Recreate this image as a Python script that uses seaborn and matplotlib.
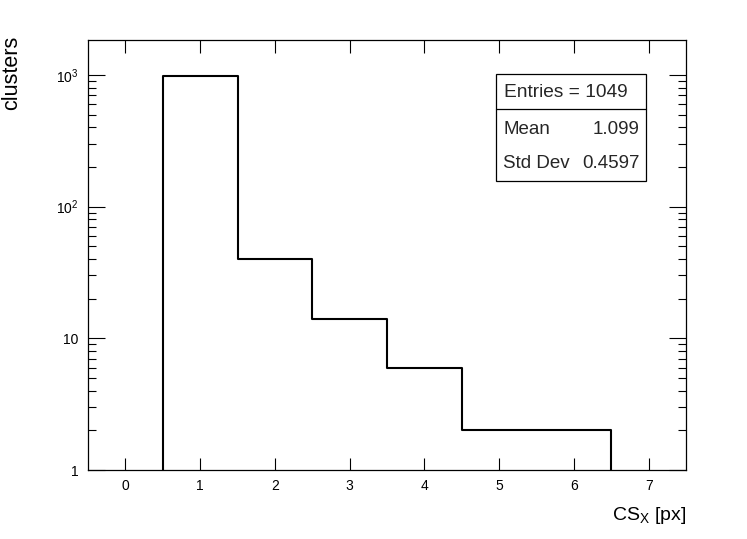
import numpy as np
import pandas as pd
import matplotlib
matplotlib.use("Agg")
import matplotlib.pyplot as plt
import seaborn as sns
from matplotlib.ticker import FixedLocator, FixedFormatter, LogLocator, NullFormatter, NullLocator
from matplotlib.patches import Rectangle
from matplotlib.lines import Line2D

# ---- data ----
bin_centers = [0, 1, 2, 3, 4, 5, 6, 7]
bin_counts = [0, 985, 40, 14, 6, 2, 2, 0]
bin_edges = [-0.5, 0.5, 1.5, 2.5, 3.5, 4.5, 5.5, 6.5, 7.5]
x_ticks = [0, 1, 2, 3, 4, 5, 6, 7]
y_ticks = [1, 10, 100, 1000]
y_tick_labels = ["1", "10", r"$\mathregular{10^{2}}$", r"$\mathregular{10^{3}}$"]
stats_entries = "Entries = 1049"
stats_names = ["Mean", "Std Dev"]
stats_values = ["1.099", "0.4597"]
x_label = r"CS$_{\mathregular{X}}$ [px]"
y_label = "clusters"

sns.set_theme(style="white")
plt.rcParams["font.family"] = ["Liberation Sans", "DejaVu Sans"]
plt.rcParams["mathtext.fontset"] = "custom"
plt.rcParams["mathtext.rm"] = "Liberation Sans"
plt.rcParams["mathtext.it"] = "Liberation Sans:italic"

W, H = 747, 539
fig = plt.figure(figsize=(W / 100, H / 100), dpi=100)
fig.patch.set_facecolor("white")
L, R, T, B = 88, 686, 40, 470
ax = fig.add_axes([L / W, (H - B) / H, (R - L) / W, (B - T) / H])
ax.set_facecolor("white")

df = pd.DataFrame({"x": bin_centers, "w": bin_counts})
sns.histplot(data=df, x="x", weights="w", bins=bin_edges, element="step",
             fill=False, color="black", linewidth=1.5, ax=ax)

ax.set_yscale("log")
ax.set_xlim(-0.5, 7.5)
ax.set_ylim(1, 1840)

for s in ax.spines.values():
    s.set_color("black")
    s.set_linewidth(0.9)

ax.xaxis.set_major_locator(FixedLocator(x_ticks))
ax.set_xticklabels([str(v) for v in x_ticks])
ax.xaxis.set_minor_locator(NullLocator())
ax.yaxis.set_major_locator(FixedLocator(y_ticks))
ax.yaxis.set_major_formatter(FixedFormatter(y_tick_labels))
ax.yaxis.set_minor_locator(LogLocator(base=10, subs=np.arange(2, 10), numticks=20))
ax.yaxis.set_minor_formatter(NullFormatter())

ax.tick_params(axis="x", which="major", direction="in", length=9, width=0.8,
               top=True, bottom=True, labelsize=10, pad=6.5, colors="black")
ax.tick_params(axis="y", which="major", direction="in", length=12.5, width=0.8,
               left=True, right=True, labelsize=10, pad=7, colors="black")
ax.tick_params(axis="y", which="minor", direction="in", length=6, width=0.8,
               left=True, right=True, colors="black")

ax.set_xlabel(x_label, fontsize=14, loc="right", color="black")
ax.xaxis.set_label_coords(1.0, (B - 505) / (B - T))
ax.set_ylabel(y_label, fontsize=15.5, loc="top", color="black")
ax.yaxis.set_label_coords((22 - L) / (R - L), 1.0 + (T - 36) / (B - T))

# stats box (pixel coords from top-left)
def fx(px):
    return px / W

def fy(py):
    return (H - py) / H

bx0, bx1, by0, by1, bsep = 496, 646, 74, 181, 109
fig.patches.append(Rectangle((fx(bx0), fy(by1)), fx(bx1) - fx(bx0), fy(by0) - fy(by1),
                             transform=fig.transFigure, facecolor="white",
                             edgecolor="black", linewidth=0.9, zorder=5))
fig.lines.append(Line2D([fx(bx0), fx(bx1)], [fy(bsep), fy(bsep)],
                        transform=fig.transFigure, color="black", linewidth=0.9, zorder=6))
fig.text(fx(565.5), fy(92.5), stats_entries, ha="center", va="center", fontsize=13.8, zorder=7)
for i, (n, v) in enumerate(zip(stats_names, stats_values)):
    yy = [129, 164][i]
    fig.text(fx(503), fy(yy), n, ha="left", va="center", fontsize=13.5, zorder=7)
    fig.text(fx(640), fy(yy), v, ha="right", va="center", fontsize=13.5, zorder=7)

fig.savefig("out.png", dpi=100)
